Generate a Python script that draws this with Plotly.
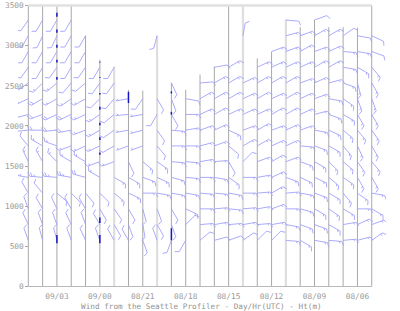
import math
import plotly.graph_objects as go

# ---------------- data ----------------
COLUMNS = [0, 1, 2, 3, 4, 5, 6, 7, 8, 9, 10, 11, 12, 13, 14, 15, 16, 17, 18, 19, 20, 21, 22, 23, 24]
TICK_POS = [2, 5, 8, 11, 14, 17, 20, 23]
TICK_TEXT = ["09/03", "09/00", "08/21", "08/18", "08/15", "08/12", "08/09", "08/06"]
Y_TICKS = [0, 500, 1000, 1500, 2000, 2500, 3000, 3500]

COL_TOP = [3500, 3500, 3500, 3500, 3125, 2825, 2740, 2450, 2440, 3125, 2540, 2450, 2640,
           2740, 3500, 3500, 2840, 2925, 3325, 3230, 3320, 3230, 3230, 3225, 3500]
COL_LIGHT = [0, 0, 0, 0, 0, 0, 1, 0, 0, 1, 0, 0, 0, 0, 0, 1, 0, 0, 1, 0, 0, 0, 0, 0, 0]

LEVELS = [575, 771, 967, 1163, 1359, 1555, 1751, 1947, 2143, 2339, 2535, 2731, 2927, 3123, 3319]

N = None
# staff bearing (deg, 0 = up, 90 = right) per column, levels bottom -> top
DIRS = [
    [340, 335, 340, 330, 280, 335, 320, 265, 255, 245, 235, 215, 210, 210, 215],
    [345, 340, 330, 320, 275, 330, 300, 270, 250, 240, 225, 210, 210, 205, 210],
    [345, 340, 335, 130, 275, 315, 290, 265, 245, 240, 230, 215, 210, 205, 210],
    [340, 335, 330, 135, 280, 300, 250, 260, 245, 235, 220, 210, 210, 210, 210],
    [335, 340, 330, 140, 285, 300, 245, 250, 245, 240, 230, 215, 210, 210, N],
    [340, 330, 150, 135, 300, 250, 245, 240, 235, 225, 215, 210, N, N, N],
    [330, 150, 145, 130, 120, 250, 240, 235, 230, 220, 215, 210, N, N, N],
    [330, 160, 150, 115, 120, 155, 250, 260, 265, 260, N, N, N, N, N],
    [160, 170, 165, 90, 110, 130, 250, 255, 260, 215, N, N, N, N, N],
    [340, 150, 160, 100, 115, 125, 140, 145, 210, 150, N, N, N, 195, N],
    [200, 160, 150, 100, 105, 95, 90, 95, 150, 160, 155, N, N, N, N],
    [210, 45, 115, 100, 95, 95, 90, 80, 90, 100, N, N, N, N, N],
    [50, 85, 90, 95, 90, 80, 75, 70, 65, 60, 85, N, N, N, N],
    [75, 80, 85, 95, 100, 85, 70, 65, 60, 60, 60, 80, N, N, N],
    [70, 85, 95, 100, 125, 150, 130, 115, 65, 60, 60, 60, N, N, N],
    [55, 80, 85, 90, 90, 45, 60, 70, 65, 65, 65, N, N, 10, N],
    [45, 85, 80, 85, 80, 70, 60, 60, 65, 60, 60, 65, N, N, N],
    [45, 80, 70, 60, 65, 60, 65, 70, 60, 65, 60, 65, 70, N, N],
    [95, 100, 90, 85, 110, 70, 65, 65, 60, 60, 60, 65, 70, 75, 95],
    [120, 110, 105, 100, 115, 110, 95, 70, 65, 65, 70, 65, 60, 70, N],
    [100, 110, 120, 110, 115, 120, 110, 100, 75, 70, 65, 60, 70, 60, 70],
    [95, 120, 125, 120, 130, 135, 120, 115, 110, 100, 75, 60, 65, 60, N],
    [85, 80, 120, 140, 125, 130, 140, 130, 120, 125, 110, 100, 95, 55, N],
    [75, 65, 90, 125, 150, 145, 155, 140, 150, 160, 165, 120, 100, 100, N],
    [55, 70, 120, 100, 150, 140, 150, 145, 150, 160, 150, 140, 110, 115, N],
]
# speed (kt) per column, levels bottom -> top
SPDS = [
    [10, 10, 10, 10, 25, 15, 10, 20, 20, 20, 15, 10, 10, 10, 10],
    [10, 10, 10, 10, 25, 15, 15, 20, 20, 20, 15, 10, 10, 10, 10],
    [10, 10, 10, 10, 25, 15, 15, 20, 20, 15, 15, 10, 10, 10, 10],
    [10, 10, 10, 10, 25, 15, 15, 20, 20, 15, 10, 10, 10, 10, 10],
    [10, 10, 10, 10, 20, 15, 15, 15, 15, 15, 10, 10, 10, 10, N],
    [10, 10, 10, 10, 15, 15, 15, 15, 15, 10, 10, 10, N, N, N],
    [10, 10, 10, 15, 15, 15, 10, 10, 10, 10, 10, 10, N, N, N],
    [10, 10, 10, 15, 15, 10, 5, 5, 5, 5, N, N, N, N, N],
    [10, 10, 10, 15, 15, 15, 5, 5, 5, 10, N, N, N, N, N],
    [10, 10, 10, 15, 15, 15, 10, 10, 10, 10, N, N, N, 10, N],
    [10, 10, 10, 15, 15, 15, 15, 15, 10, 10, 10, N, N, N, N],
    [10, 10, 15, 15, 15, 15, 15, 15, 15, 10, N, N, N, N, N],
    [10, 15, 15, 15, 15, 15, 15, 15, 15, 15, 10, N, N, N, N],
    [10, 15, 15, 15, 15, 15, 15, 15, 15, 15, 15, 10, N, N, N],
    [10, 15, 15, 15, 15, 10, 10, 15, 15, 15, 15, 15, N, N, N],
    [10, 15, 15, 15, 15, 10, 15, 15, 15, 15, 15, N, N, 10, N],
    [10, 15, 15, 15, 15, 15, 15, 15, 15, 15, 15, 15, N, N, N],
    [10, 15, 15, 15, 15, 15, 15, 15, 15, 15, 15, 15, 15, N, N],
    [15, 15, 15, 15, 15, 15, 15, 15, 15, 15, 15, 15, 15, 15, 10],
    [15, 15, 15, 15, 15, 15, 15, 15, 15, 15, 15, 15, 15, 15, N],
    [15, 15, 15, 15, 15, 15, 15, 15, 15, 15, 15, 15, 15, 15, 10],
    [15, 15, 15, 15, 15, 15, 15, 15, 15, 15, 15, 15, 15, 15, N],
    [15, 15, 15, 15, 15, 15, 15, 15, 15, 15, 15, 15, 15, 10, N],
    [15, 15, 15, 15, 15, 15, 15, 15, 15, 15, 15, 15, 15, 10, N],
    [15, 15, 15, 15, 15, 15, 15, 15, 15, 15, 15, 15, 10, 10, N],
]

# dark-blue marks on the columns: (column, low height, high height)
MARK_COL = [2, 2, 2, 2, 2, 2, 5, 5, 5, 5, 5, 5, 5, 5, 5, 7, 10, 10, 10]
MARK_LO = [3360, 3160, 2975, 2790, 2575, 540, 2790, 2600, 2390, 2200, 2010, 1825, 1640, 790, 540, 2285, 2405, 2140, 575]
MARK_HI = [3410, 3200, 3010, 2825, 2610, 640, 2800, 2610, 2410, 2240, 2040, 1860, 1670, 860, 640, 2425, 2430, 2175, 725]

TITLE = "Wind from the Seattle Profiler - Day/Hr(UTC) - Ht(m)"

# ---------------- layout geometry ----------------
W, H = 400, 311
ML, MR, MT, MB = 18, 14, 2, 21
PW, PH = W - ML - MR, H - MT - MB
X0, X1 = -0.72, -0.72 + PW / 14.31
Y0, Y1 = -43.6, 3543.6
XPX = PW / (X1 - X0)          # px per column unit
YPX = PH / (Y1 - Y0)          # px per metre

STAFF = 13.0
FEATH = 4.5
FSTEP = 2.6


def barb_segments(x, y, bearing, spd):
    xs, ys = [], []
    t = math.radians(bearing)
    sx, sy = math.sin(t), math.cos(t)
    ex, ey = x + sx * STAFF / XPX, y + sy * STAFF / YPX
    xs += [x, ex, None]
    ys += [y, ey, None]
    f = math.radians(bearing + 60)
    fx, fy = math.sin(f), math.cos(f)
    full = int(spd // 10)
    half = 1 if (spd - full * 10) >= 5 else 0
    pos = 0.0
    for i in range(full):
        bx = x + sx * (STAFF - pos) / XPX
        by = y + sy * (STAFF - pos) / YPX
        xs += [bx, bx + fx * FEATH / XPX, None]
        ys += [by, by + fy * FEATH / YPX, None]
        pos += FSTEP
    if half:
        if full == 0:
            pos += FSTEP
        bx = x + sx * (STAFF - pos) / XPX
        by = y + sy * (STAFF - pos) / YPX
        xs += [bx, bx + fx * FEATH * 0.5 / XPX, None]
        ys += [by, by + fy * FEATH * 0.5 / YPX, None]
    return xs, ys


fig = go.Figure()

# columns
for light, color, width in [(0, "#a8a8a8", 1.0), (1, "#dedede", 2.2)]:
    cx, cy = [], []
    for k, top, lt in zip(COLUMNS, COL_TOP, COL_LIGHT):
        if lt == light:
            cx += [k, k, None]
            cy += [0, top, None]
    fig.add_trace(go.Scatter(x=cx, y=cy, mode="lines", line=dict(color=color, width=width),
                             hoverinfo="skip", showlegend=False))

# frame: top and bottom
fig.add_trace(go.Scatter(x=[COLUMNS[0], COLUMNS[-1]], y=[3500, 3500], mode="lines",
                         line=dict(color="#e0e0e0", width=2.5), hoverinfo="skip", showlegend=False))
fig.add_trace(go.Scatter(x=[COLUMNS[0], COLUMNS[-1]], y=[0, 0], mode="lines",
                         line=dict(color="#b8b8b8", width=1), hoverinfo="skip", showlegend=False))

# barbs
bx, by = [], []
for k, dcol, scol in zip(COLUMNS, DIRS, SPDS):
    for h, d, s in zip(LEVELS, dcol, scol):
        if d is None or s is None:
            continue
        xs, ys = barb_segments(k, h, d, s)
        bx += xs
        by += ys
fig.add_trace(go.Scatter(x=bx, y=by, mode="lines", line=dict(color="#a2a2fa", width=0.9),
                         hoverinfo="skip", showlegend=False))

# dark marks
mx, my = [], []
for c, lo, hi in zip(MARK_COL, MARK_LO, MARK_HI):
    mx += [c, c, None]
    my += [lo, hi, None]
fig.add_trace(go.Scatter(x=mx, y=my, mode="lines", line=dict(color="#1818c0", width=1.5),
                         hoverinfo="skip", showlegend=False))

FONT = "DejaVu Sans Mono"
fig.update_layout(
    width=W, height=H,
    margin=dict(l=ML, r=MR, t=MT, b=MB),
    paper_bgcolor="white", plot_bgcolor="white",
    xaxis=dict(range=[X0, X1], tickmode="array", tickvals=TICK_POS, ticktext=TICK_TEXT,
               showgrid=False, zeroline=False, showline=False, ticks="",
               tickfont=dict(family=FONT, size=7.8, color="#9a9a9a")),
    yaxis=dict(range=[Y0, Y1], tickmode="array", tickvals=Y_TICKS,
               anchor="free", position=(28.3 - ML) / PW,
               showgrid=False, zeroline=False, showline=False,
               ticks="outside", ticklen=3, tickcolor="#a8a8a8", tickwidth=1,
               tickfont=dict(family=FONT, size=7.8, color="#9a9a9a")),
    annotations=[dict(text=TITLE, xref="paper", yref="paper", x=(201 - ML) / PW,
                      y=-(306 - (MT + PH)) / PH, xanchor="center", yanchor="middle",
                      showarrow=False, font=dict(family=FONT, size=7.7, color="#929292"))],
)

fig.write_html("out.html")
